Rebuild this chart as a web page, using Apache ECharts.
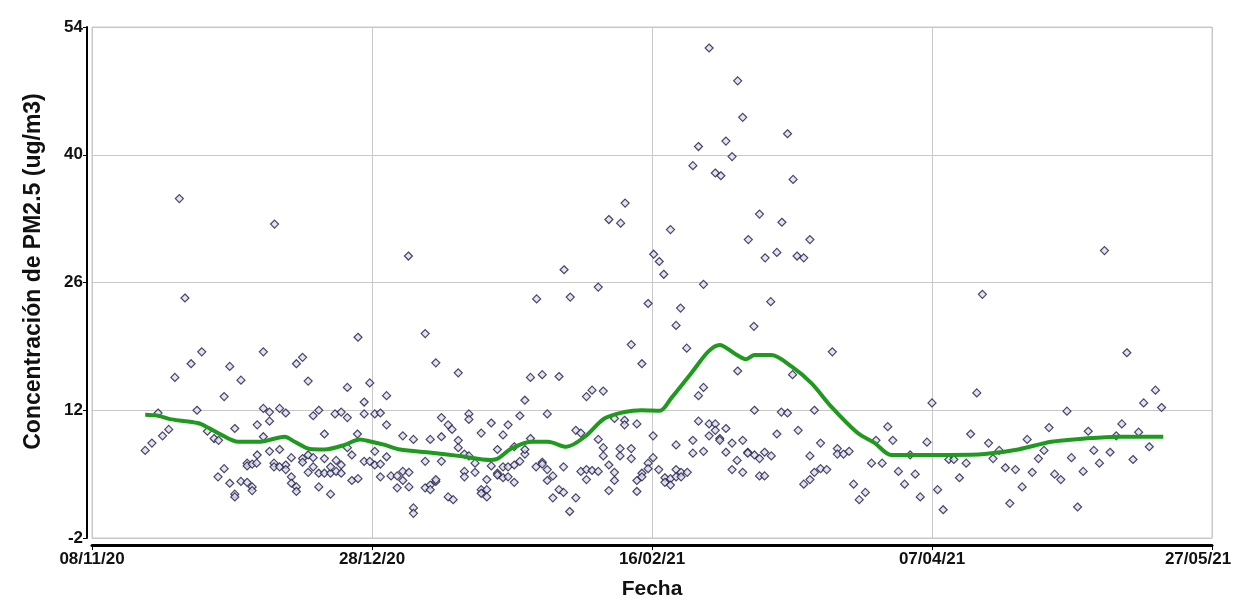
<!DOCTYPE html>
<html>
<head>
<meta charset="utf-8">
<title>PM2.5</title>
<script src="https://cdn.jsdelivr.net/npm/echarts@6/dist/echarts.min.js"></script>
<style>
  html, body { margin: 0; padding: 0; background: #fff; }
  #chart { width: 1237px; height: 603px; }
</style>
</head>
<body>
<div id="chart"></div>
<script>
// dias contados desde el 08/11/20
var etiquetasX = ["08/11/20", "28/12/20", "16/02/21", "07/04/21", "27/05/21"];

var dias = [
  9.5, 10.7, 11.8, 12.6, 13.7, 14.8, 15.6, 16.6, 17.7, 18.75, 19.6, 20.6, 21.8, 22.5, 22.6, 23.6, 23.6, 24.6, 24.6, 25.5,
  25.5, 25.5, 26.6, 26.6, 27.7, 27.7, 27.7, 28.6, 28.6, 28.6, 29.4, 29.5, 29.5, 30.6, 30.6, 30.6, 31.7, 31.7, 31.7, 32.5,
  32.5, 32.6, 33.5, 33.5, 33.5, 34.6, 34.6, 34.6, 35.6, 35.6, 35.6, 36.5, 36.5, 36.5, 37.6, 37.6, 37.6, 38.6, 38.6, 38.6,
  39.5, 39.5, 39.5, 40.5, 40.5, 40.5, 41.5, 41.5, 41.5, 42.6, 42.6, 42.6, 43.4, 43.6, 43.6, 44.5, 44.5, 44.5, 45.6, 45.6,
  45.6, 46.4, 46.4, 47.4, 47.5, 47.5, 48.6, 48.6, 48.6, 49.6, 49.6, 50.5, 50.5, 50.5, 51.5, 51.5, 51.5, 52.6, 52.6, 52.6,
  53.4, 54.5, 54.5,
  55.5, 55.5, 55.5, 56.5, 56.6, 56.6, 57.4, 57.4, 57.4, 59.5, 59.5, 59.5, 60.4, 60.4, 60.4, 61.4, 61.4, 61.4, 62.4, 62.4,
  62.4, 63.6, 63.6, 64.3, 64.5, 65.4, 65.4, 65.4, 66.5, 66.5, 66.5, 67.3, 67.3, 67.3, 68.4, 68.4, 69.5, 69.5, 69.5, 70.5,
  70.5, 70.5, 71.3, 71.3, 72.4, 72.4, 72.4, 73.4, 73.4, 73.4, 74.3, 74.3, 74.3, 75.4, 75.4, 75.4, 76.4, 76.4, 77.3, 77.3,
  77.3, 78.3, 78.3, 79.3, 79.4, 80.4, 80.4, 80.4, 81.3, 81.3, 81.3, 82.3, 82.3, 83.4, 83.4, 84.2, 84.2, 84.3, 85.3, 85.4,
  86.4, 86.4, 87.3, 87.3, 88.3, 88.3, 88.3, 89.3, 89.3, 90.4, 90.4, 90.4, 91.3, 91.3, 91.3, 92.3, 92.3, 92.3, 93.3, 93.3,
  93.3, 94.3, 94.3, 94.4, 95.1, 95.1, 95.2, 96.3, 96.3, 96.3, 97.3, 97.3, 97.3, 98.2, 98.2, 98.2, 99.3, 99.3, 99.3, 100.2,
  100.2, 100.3, 101.2, 101.3, 102.1, 102.3, 102.3, 103.3, 103.3, 103.3, 104.3, 104.3, 104.3, 104.3, 105.1, 105.2, 105.2, 106.2, 106.3, 107.3,
  107.3, 107.3, 108.3, 108.3, 108.3, 109.2, 109.2, 109.2, 110.2, 110.2, 110.2, 111.3, 111.3, 111.3, 112.1, 112.1, 112.3, 113.2, 113.2, 113.2,
  114.3, 114.3, 114.3, 115.2, 115.3, 115.3, 116.2, 116.2, 116.2, 117.1, 117.1, 117.2, 118.2, 118.3, 118.3, 119.2, 119.2, 119.2, 120.1, 120.1,
  120.2, 121.2, 121.3, 122.3, 122.3, 123.1, 123.2, 124.2, 124.2, 125.1, 125.2, 125.9, 126.1, 127.1, 127.1, 128.2, 128.2, 128.2, 129, 129,
  130.1, 130.1, 131.2, 132.2, 133.1, 133.1, 134.2, 135.2, 136, 137, 138.1, 139.2, 140, 141.1, 142.1, 143, 144, 145.1, 146.1, 147,
  147.9, 149.1, 150, 151, 152, 153, 153.9, 154.9, 156.1, 156.9, 158, 159, 160.1, 160.9, 162, 163.1, 163.9, 164.9, 166.1, 167,
  167.9, 169, 170, 170.9, 171.9, 173, 174.1, 174.9, 176, 177, 177.9, 178.9, 179.9, 180.8, 181.8, 182.9, 183.9, 184.8, 185.9, 186.9,
  187.8, 188.8, 189.9, 191
];

var pm25 = [
  7.6, 8.4, 11.7, 9.2, 9.9, 15.6, 35.2, 24.3, 17.1, 12.0, 18.4, 9.7, 8.9, 4.7, 8.7, 13.5, 5.6, 16.8, 4.0, 10.0,
  2.8, 2.5, 15.3, 4.2, 4.1, 6.2, 5.9, 3.6, 3.2, 6.1, 6.2, 7.1, 10.4, 18.4, 12.2, 9.1, 11.8, 10.8, 7.5, 6.2,
  5.8, 32.4, 5.8, 12.2, 7.7, 6.0, 5.5, 11.7, 6.8, 4.7, 4.0, 3.6, 3.1, 17.1, 17.8, 6.7, 6.3, 15.2, 7.1, 5.2,
  6.8, 5.8, 11.4, 12.0, 5.1, 3.6, 9.4, 6.7, 5.1, 5.1, 5.8, 2.8, 11.6, 6.5, 5.3, 6.0, 5.1, 11.8, 11.2, 14.5,
  7.9, 7.1, 4.3, 9.4, 20.0, 4.5, 12.9, 11.6, 6.4, 15.0, 6.4, 11.6, 6.0, 7.5, 11.7, 6.1, 4.7, 13.6, 10.4, 6.9,
  4.8, 4.8, 3.5,
  9.2, 5.3, 4.3, 28.9, 5.2, 3.6, 8.8, 1.3, 0.7, 20.4, 6.4, 3.5, 8.8, 3.8, 3.3, 17.2, 4.2, 4.4, 9.1, 11.2,
  6.4, 10.4, 2.5, 9.9, 2.2, 16.1, 8.7, 7.9, 7.2, 5.3, 4.7, 11.6, 11.0, 7.0, 5.2, 6.2, 9.5, 3.3, 2.9, 3.3,
  2.5, 4.4, 10.6, 5.9, 7.7, 5.1, 4.9, 5.8, 4.6, 9.3, 10.4, 5.8, 4.7, 6.0, 4.1, 8.0, 6.4, 11.4, 13.1, 7.2,
  7.7, 15.6, 8.9, 5.8, 24.2, 6.3, 6.1, 15.9, 5.5, 4.3, 11.6, 4.8, 2.4, 15.7, 3.3, 3.0, 5.8, 27.4, 0.9, 24.4,
  2.4, 9.8, 9.5, 5.3, 5.5, 4.4, 13.5, 14.2, 5.4, 5.3, 8.8, 25.5, 14.1, 7.9, 7.0, 6.0, 3.2, 32.9, 11.1, 5.2,
  4.3, 7.8, 7.0, 32.5, 10.9, 10.4, 34.7, 7.8, 6.7, 19.2, 10.5, 4.3, 3.1, 5.1, 4.7, 17.1, 6.2, 5.6, 23.7, 9.2,
  6.8, 29.1, 5.5, 28.3, 26.9, 4.6, 4.1, 31.8, 4.5, 3.8, 21.3, 8.2, 5.5, 4.7, 23.2, 5.2, 4.7, 18.8, 5.2, 38.8,
  8.7, 7.3, 40.9, 13.6, 10.8, 14.5, 25.8, 7.5, 51.7, 10.5, 9.2, 10.5, 9.8, 38.0, 8.9, 8.7, 37.7, 10.0, 7.4, 41.5,
  8.4, 5.5, 39.8, 6.5, 48.1, 16.3, 44.1, 8.7, 5.2, 7.4, 7.3, 30.7, 21.2, 12.0, 7.1, 33.5, 6.7, 4.8, 7.4, 4.8,
  28.7, 23.9, 7.0, 29.3, 9.4, 11.8, 32.6, 11.7, 42.3, 15.9, 37.3, 28.9, 9.8, 28.7, 3.9, 30.7, 7.0, 4.4, 12.0, 5.2,
  8.4, 5.6, 5.5, 18.4, 7.8, 7.2, 7.2, 7.5, 3.9, 2.2, 3.0, 6.2, 8.7, 6.2, 10.2, 8.7, 5.3, 3.9, 7.1, 5.0,
  2.5, 8.5, 12.8, 3.3, 1.1, 6.6, 6.6, 4.6, 6.2, 9.4, 13.9, 24.7, 8.4, 6.7, 7.6, 5.7, 1.8, 5.5, 3.6, 8.8,
  5.2, 6.7, 7.6, 10.1, 5.0, 4.4, 11.9, 6.8, 1.4, 5.3, 9.7, 7.6, 6.2, 29.5, 7.4, 9.2, 10.5, 18.3, 6.6, 9.6,
  12.8, 8.0, 14.2, 12.3
];

// curva suavizada (verde)
var diasSuave = [9.5, 11.8, 14.2, 18.9, 20.7, 23.1, 26.1, 30.2, 32, 34.4, 36.2, 38.9, 41.5, 45.1, 47.8, 49.9, 52.3, 55, 60.6, 65.4,
  71.3, 72.5, 74.9, 78.4, 81.4, 84.7, 88, 91.5, 95.1, 98.1, 101.4, 103.4, 107, 110, 112.1, 114.8, 116.8, 118.3, 121.3, 124.9,
  128.5, 132, 136.8, 139.8, 142.7, 147.9, 153.4, 159.4, 165.4, 171.3, 177.3, 183.2, 191.3];
var pm25Suave = [11.5, 11.4, 11.0, 10.6, 10.1, 9.3, 8.55, 8.55, 8.8, 9.1, 8.55, 7.75, 7.7, 8.2, 8.8, 8.55, 8.2, 7.7, 7.35, 7.0,
  6.55, 6.7, 7.8, 8.55, 8.55, 8.0, 9.1, 11.1, 11.8, 12.0, 11.95, 13.3, 16.05, 18.4, 19.15, 18.2, 17.6, 18.05, 18.05, 16.8,
  14.95, 12.4, 9.47, 8.4, 7.1, 7.1, 7.1, 7.2, 7.7, 8.55, 8.9, 9.1, 9.1];

var chart = echarts.init(document.getElementById("chart"));
var fuente = "'Liberation Sans', Arial, sans-serif";

chart.setOption({
  animation: false,
  backgroundColor: "#ffffff",
  grid: {
    left: 92,
    right: 25,
    top: 27,
    bottom: 65,
    outerBoundsMode: "none",
    show: true,
    borderColor: "#c8c8c8",
    borderWidth: 1
  },
  xAxis: {
    type: "value",
    min: 0,
    max: 200,
    interval: 50,
    offset: 7,
    name: "Fecha",
    nameLocation: "middle",
    nameGap: 34,
    nameTextStyle: { fontFamily: fuente, fontWeight: "bold", fontSize: 21, color: "#111" },
    axisLine: { onZero: false, lineStyle: { color: "#000", width: 3 } },
    axisTick: { show: true, length: 5, lineStyle: { color: "#000", width: 1 } },
    axisLabel: {
      fontFamily: fuente, fontWeight: "bold", fontSize: 17, color: "#111", margin: 6,
      formatter: function (v) {
        var i = Math.round(v / 50);
        // la ultima etiqueta queda pegada al borde derecho
        return i === etiquetasX.length - 1 ? "{u|" + etiquetasX[i] + "}" : etiquetasX[i];
      },
      rich: {
        u: { fontFamily: fuente, fontWeight: "bold", fontSize: 17, color: "#111", padding: [0, 28, 0, 0] }
      }
    },
    splitLine: { show: true, lineStyle: { color: "#c8c8c8", width: 1 } }
  },
  yAxis: {
    type: "value",
    min: -2,
    max: 54,
    interval: 14,
    offset: 5,
    name: "Concentración de PM2.5 (ug/m3)",
    nameLocation: "middle",
    nameGap: 42,
    nameTextStyle: {
      fontFamily: fuente, fontWeight: "bold", fontSize: 23, color: "#111",
      padding: [0, 0, 0, 22]
    },
    axisLine: { show: true, onZero: false, lineStyle: { color: "#000", width: 2 } },
    axisTick: { show: true, length: 4, lineStyle: { color: "#000", width: 1 } },
    axisLabel: { fontFamily: fuente, fontWeight: "bold", fontSize: 17, color: "#111", margin: 4 },
    splitLine: { show: true, lineStyle: { color: "#c8c8c8", width: 1 } }
  },
  series: [
    {
      type: "scatter",
      symbol: "diamond",
      symbolSize: 8,
      itemStyle: { color: "#dcdcf0", borderColor: "#1c1c40", borderWidth: 1.2 },
      data: dias.map(function (d, i) { return [d, pm25[i]]; }),
      z: 2
    },
    {
      type: "line",
      smooth: 0.3,
      showSymbol: false,
      lineStyle: { color: "#1f9a1f", width: 4 },
      data: diasSuave.map(function (d, i) { return [d, pm25Suave[i]]; }),
      z: 3
    }
  ]
});
</script>
</body>
</html>
